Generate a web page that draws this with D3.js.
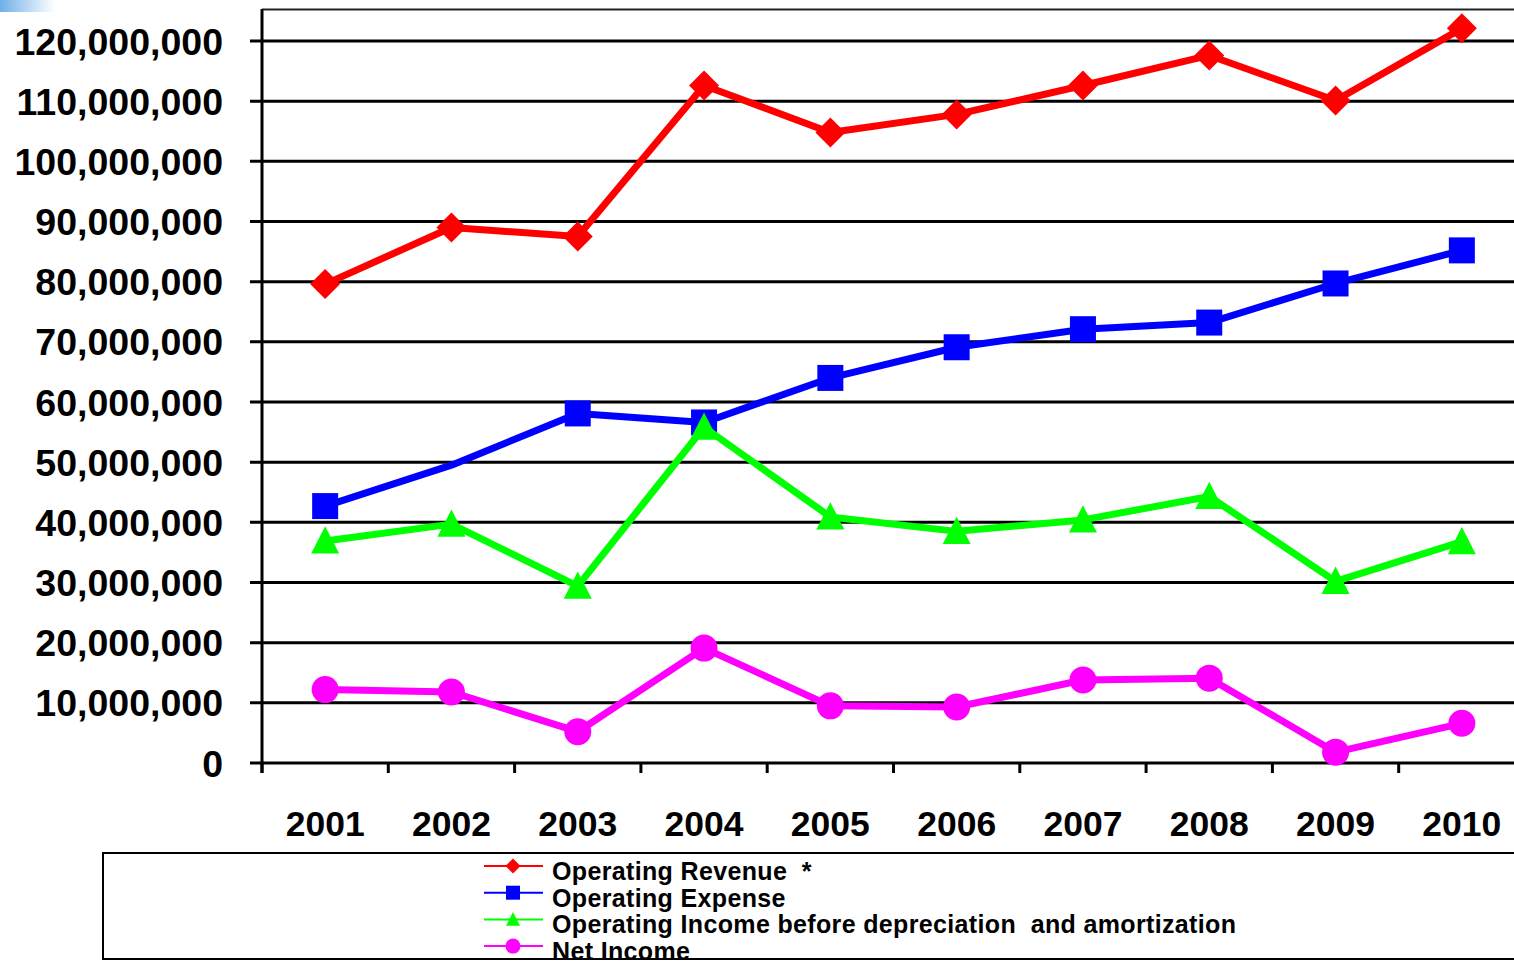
<!DOCTYPE html>
<html>
<head>
<meta charset="utf-8">
<script src="https://cdn.jsdelivr.net/npm/d3@7"></script>
<style>
  html, body { margin: 0; padding: 0; background: #fff; }
  svg { display: block; }
  text { font-family: "Liberation Sans", Arial, sans-serif; font-weight: bold; fill: #000; }
</style>
</head>
<body>
<svg id="chart" width="1514" height="961"></svg>
<script>
const years = ["2001","2002","2003","2004","2005","2006","2007","2008","2009","2010"];
const operatingRevenue = [79.6, 89.0, 87.5, 112.6, 104.8, 107.8, 112.6, 117.6, 110.1, 122.1].map(v => v * 1e6);
const operatingExpense = [42.7, 49.5, 58.1, 56.6, 64.0, 69.1, 72.1, 73.2, 79.7, 85.2].map(v => v * 1e6);
const operatingIncome = [36.9, 39.7, 29.4, 55.8, 40.9, 38.5, 40.4, 44.3, 30.2, 36.8].map(v => v * 1e6);
const netIncome = [12.2, 11.8, 5.2, 19.1, 9.5, 9.3, 13.8, 14.1, 1.8, 6.6].map(v => v * 1e6);
// The 2002 expense point shows no marker in the original
const expenseMarkerShown = [true, false, true, true, true, true, true, true, true, true];
const yTicks = [0, 10e6, 20e6, 30e6, 40e6, 50e6, 60e6, 70e6, 80e6, 90e6, 100e6, 110e6, 120e6];
const seriesNames = ["Operating Revenue  *", "Operating Expense", "Operating Income before depreciation  and amortization", "Net Income"];
const seriesColors = ["#ff0000", "#0000ff", "#00ff00", "#ff00ff"];
const seriesShapes = ["diamond", "square", "triangle", "circle"];

(function () {
const series = [
  { name: seriesNames[0], values: operatingRevenue, color: seriesColors[0], shape: seriesShapes[0], shown: years.map(() => true) },
  { name: seriesNames[1], values: operatingExpense, color: seriesColors[1], shape: seriesShapes[1], shown: expenseMarkerShown },
  { name: seriesNames[2], values: operatingIncome, color: seriesColors[2], shape: seriesShapes[2], shown: years.map(() => true) },
  { name: seriesNames[3], values: netIncome, color: seriesColors[3], shape: seriesShapes[3], shown: years.map(() => true) }
];

const svg = d3.select("#chart");
const pLeft = 262, pRight = 1525, pTop = 41, pBottom = 763;

const x = d3.scaleBand().domain(years).range([pLeft, pRight]);
const y = d3.scaleLinear().domain([0, 120e6]).range([pBottom, pTop]);

// decorative corner gradient
const defs = svg.append("defs");
const grad = defs.append("linearGradient").attr("id", "cornerGrad").attr("x1", "0").attr("x2", "1");
grad.append("stop").attr("offset", "0").attr("stop-color", "#6fb0e8");
grad.append("stop").attr("offset", "1").attr("stop-color", "#ffffff");
svg.append("rect").attr("x", 0).attr("y", 0).attr("width", 55).attr("height", 12).attr("fill", "url(#cornerGrad)");

// plot top border
svg.append("line").attr("x1", pLeft).attr("x2", 1514).attr("y1", 9.5).attr("y2", 9.5)
  .attr("stroke", "#222").attr("stroke-width", 2);

// gridlines
svg.append("g").selectAll("line").data(yTicks).join("line")
  .attr("x1", 250).attr("x2", 1514)
  .attr("y1", d => y(d)).attr("y2", d => y(d))
  .attr("stroke", "#000").attr("stroke-width", 3);

// y axis line
svg.append("line").attr("x1", pLeft).attr("x2", pLeft).attr("y1", 9).attr("y2", pBottom + 10)
  .attr("stroke", "#000").attr("stroke-width", 3);

// y labels
svg.append("g").selectAll("text").data(yTicks).join("text")
  .attr("x", 223).attr("y", d => y(d)).attr("dy", "0.36em")
  .attr("text-anchor", "end").style("font-size", "37.5px")
  .text(d => d3.format(",")(d));

// x ticks
const xTickPos = years.map(d => x(d)).concat([x(years[years.length - 1]) + x.bandwidth()]);
svg.append("g").selectAll("line").data(xTickPos).join("line")
  .attr("x1", d => d).attr("x2", d => d).attr("y1", pBottom).attr("y2", pBottom + 10)
  .attr("stroke", "#000").attr("stroke-width", 3);

// x labels
svg.append("g").selectAll("text").data(years).join("text")
  .attr("x", d => x(d) + x.bandwidth() / 2).attr("y", 836)
  .attr("text-anchor", "middle").style("font-size", "35.5px")
  .text(d => d);

function markerPath(shape, s) {
  const h = s / 2;
  if (shape === "diamond") return `M0,${-h}L${h},0L0,${h}L${-h},0Z`;
  if (shape === "square") return `M${-h},${-h}H${h}V${h}H${-h}Z`;
  if (shape === "triangle") return `M0,${-h * 1.05}L${h},${h * 0.9}L${-h},${h * 0.9}Z`;
  return null;
}
function drawMarker(g, shape, size, color) {
  if (shape === "circle") g.append("circle").attr("r", size / 2).attr("fill", color);
  else g.append("path").attr("d", markerPath(shape, size)).attr("fill", color);
}

const line = d3.line().x((d, i) => x(years[i]) + x.bandwidth() / 2).y(d => y(d));
const markerSize = { diamond: 30, square: 26, triangle: 28, circle: 27 };

series.forEach(s => {
  svg.append("path").datum(s.values).attr("d", line)
    .attr("fill", "none").attr("stroke", s.color).attr("stroke-width", 7).attr("stroke-linejoin", "round");
  s.values.forEach((v, i) => {
    if (!s.shown[i]) return;
    const g = svg.append("g").attr("transform", `translate(${x(years[i]) + x.bandwidth() / 2},${y(v)})`);
    drawMarker(g, s.shape, markerSize[s.shape], s.color);
  });
});

// legend
const legend = svg.append("g");
legend.append("rect").attr("x", 103).attr("y", 853).attr("width", 1430).attr("height", 106)
  .attr("fill", "#fff").attr("stroke", "#000").attr("stroke-width", 2);
const legendSize = { diamond: 15, square: 14, triangle: 14, circle: 15 };
series.forEach((s, i) => {
  const cy = 866 + i * 26.7;
  legend.append("line").attr("x1", 484).attr("x2", 543).attr("y1", cy).attr("y2", cy)
    .attr("stroke", s.color).attr("stroke-width", 2);
  const g = legend.append("g").attr("transform", `translate(513,${cy})`);
  drawMarker(g, s.shape, legendSize[s.shape], s.color);
  legend.append("text").attr("x", 552).attr("y", cy + 14).style("font-size", "25px")
    .style("letter-spacing", "0.35px")
    .attr("xml:space", "preserve").style("white-space", "pre")
    .text(s.name);
});
})();
</script>
</body>
</html>
